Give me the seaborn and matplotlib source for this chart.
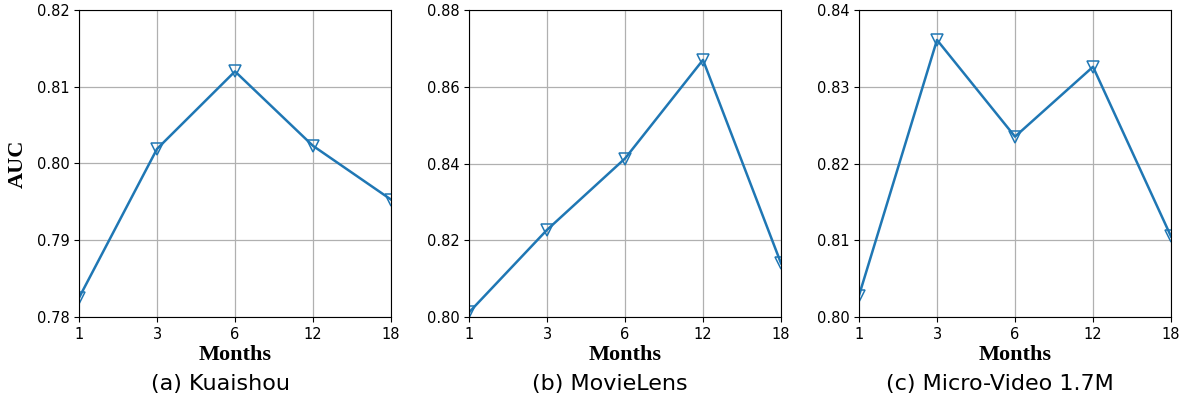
import matplotlib
matplotlib.use("Agg")
import matplotlib.pyplot as plt
import numpy as np
import pandas as pd
import seaborn as sns

months = ["1", "3", "6", "12", "18"]
kuaishou = [0.7825, 0.8019, 0.8120, 0.8023, 0.7953]
movielens = [0.8012, 0.8227, 0.8413, 0.8670, 0.8140]
microvideo = [0.8028, 0.8361, 0.8235, 0.8326, 0.8105]

titles = ["(a) Kuaishou", "(b) MovieLens", "(c) Micro-Video 1.7M"]
series = [kuaishou, movielens, microvideo]
ylims = [(0.78, 0.82), (0.80, 0.88), (0.80, 0.84)]
yticks = [[0.78, 0.79, 0.80, 0.81, 0.82],
          [0.80, 0.82, 0.84, 0.86, 0.88],
          [0.80, 0.81, 0.82, 0.83, 0.84]]

fig = plt.figure(figsize=(11.84, 3.98), dpi=100)
lefts = [79, 469, 859]
serif = ["Times New Roman", "Liberation Serif", "DejaVu Serif"]

for i in range(3):
    ax = fig.add_axes([lefts[i] / 1184, 1 - 317 / 398, 312 / 1184, 307 / 398])
    df = pd.DataFrame({"pos": np.arange(len(months)), "auc": series[i]})
    sns.lineplot(data=df, x="pos", y="auc", ax=ax, color="#1f77b4", linewidth=1.8,
                 marker="v", markersize=9, markerfacecolor="none",
                 markeredgecolor="#1f77b4", markeredgewidth=1.1)
    ax.set_xlim(0, len(months) - 1)
    ax.set_ylim(*ylims[i])
    ax.set_xticks(np.arange(len(months)))
    ax.set_xticklabels(months)
    ax.set_yticks(yticks[i])
    ax.set_yticklabels(["%.2f" % v for v in yticks[i]])
    ax.tick_params(labelsize=10.5)
    ax.grid(True, color="#b0b0b0", linewidth=0.9)
    ax.set_axisbelow(True)
    ax.set_xlabel("Months", fontsize=16, fontweight="bold", family=serif, labelpad=2)
    if i == 0:
        ax.set_ylabel("AUC", fontsize=16, fontweight="bold", family=serif, labelpad=6)
    else:
        ax.set_ylabel("")
    ax.text(0.452, -0.218, titles[i], transform=ax.transAxes, ha="center", va="center",
            fontsize=16)

fig.savefig("out.png", dpi=100)
